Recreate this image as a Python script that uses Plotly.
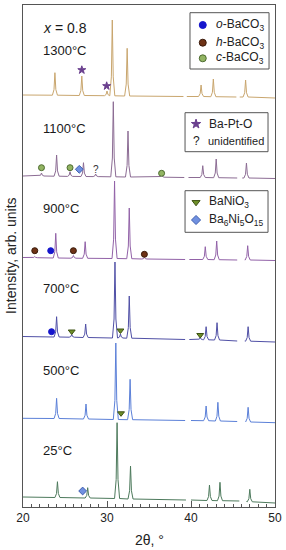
import plotly.graph_objects as go

FONT = "Arial, Liberation Sans, sans-serif"

# ---------------- data (2theta in degrees, intensity in arb. units, stacked) -------------
labels = ["25°C", "500°C", "700°C", "900°C", "1100°C", "1300°C"]
label_y = [57, 137, 219, 299, 379, 457]
line_colors = ["#4d7a5c", "#5b80d8", "#5050a6", "#9262a8", "#8c6c94", "#c9a66e"]

# measured segments: (x_start, y_start, x_end, y_end)
seg_25 = [(20.0, 10.0, 39.4, 7.0), (40.0, 7.0, 45.75, 6.0), (46.6, 5.5, 50.0, 4.0)]
seg_500 = [(20.0, 88.7, 39.3, 86.5), (40.0, 86.5, 45.5, 85.5), (46.5, 85.0, 50.0, 84.3)]
seg_700 = [(20.0, 170.5, 39.3, 167.5), (39.8, 167.5, 45.5, 166.0), (46.4, 166.0, 50.0, 165.0)]
seg_900 = [(20.0, 249.5, 39.3, 247.5), (39.8, 247.5, 45.5, 247.0), (46.4, 247.0, 50.0, 246.5)]
seg_1100 = [(20.0, 331.0, 39.2, 329.5), (39.7, 329.5, 45.5, 329.0), (46.1, 329.0, 50.0, 328.5)]
seg_1300 = [(20.0, 412.0, 39.1, 410.5), (39.5, 410.5, 45.4, 410.0), (45.8, 410.0, 50.0, 409.0)]

# peak positions, apex intensities and local background
pos_25 = [24.1, 27.7, 31.2, 32.8, 42.2, 43.45, 47.0]
top_25 = [25.3, 19.3, 84.3, 41.0, 22.0, 24.7, 17.7]
bg_25 = [9.5, 9.0, 8.5, 8.0, 6.5, 6.3, 5.2]

pos_500 = [24.0, 27.5, 31.05, 32.75, 41.8, 43.2, 46.8]
top_500 = [108.7, 103.0, 164.0, 127.7, 101.0, 104.7, 99.7]
bg_500 = [88.5, 88.0, 87.5, 87.3, 86.3, 86.0, 85.0]

pos_700 = [24.0, 25.8, 27.46, 30.95, 31.6, 32.65, 41.1, 41.8, 43.1, 46.8]
top_700 = [190.3, 172.5, 183.0, 245.0, 173.0, 211.0, 169.5, 180.3, 184.3, 180.3]
bg_700 = [170.0, 169.8, 169.5, 169.0, 169.0, 168.8, 167.3, 167.2, 167.0, 165.8]

pos_900 = [21.4, 23.9, 26.0, 27.4, 30.9, 32.65, 34.45, 41.7, 43.06, 46.75]
top_900 = [250.5, 273.7, 251.5, 265.3, 326.0, 299.0, 249.5, 260.3, 266.0, 261.3]
bg_900 = [249.3, 249.0, 248.8, 248.7, 248.5, 248.3, 248.0, 247.5, 247.3, 247.0]

pos_1100 = [22.2, 24.0, 25.6, 27.2, 28.65, 30.75, 32.5, 36.5, 41.4, 43.0, 46.6]
top_1100 = [334.0, 352.0, 335.3, 344.3, 333.0, 405.3, 376.0, 332.5, 341.3, 348.0, 344.0]
bg_1100 = [331.0, 330.8, 330.6, 330.5, 330.4, 330.2, 330.0, 329.8, 329.5, 329.3, 329.0]

pos_1300 = [23.8, 27.0, 30.0, 30.63, 32.4, 41.2, 42.66, 46.5]
top_1300 = [434.3, 431.0, 416.0, 487.0, 458.7, 422.0, 428.0, 427.0]
bg_1300 = [411.8, 411.5, 411.3, 411.2, 411.0, 410.5, 410.3, 410.0]

segments = [seg_25, seg_500, seg_700, seg_900, seg_1100, seg_1300]
positions = [pos_25, pos_500, pos_700, pos_900, pos_1100, pos_1300]
tops = [top_25, top_500, top_700, top_900, top_1100, top_1300]
bgs = [bg_25, bg_500, bg_700, bg_900, bg_1100, bg_1300]

# phase markers
phase_names = ["<i>o</i>-BaCO<sub>3</sub>", "<i>h</i>-BaCO<sub>3</sub>", "<i>c</i>-BaCO<sub>3</sub>",
               "Ba-Pt-O", "BaNiO<sub>3</sub>", "Ba<sub>6</sub>Ni<sub>5</sub>O<sub>15</sub>"]
phase_symbols = ["circle", "circle", "circle", "star", "triangle-down", "diamond"]
phase_colors = ["#1515cc", "#6e3216", "#92b462", "#6a3f8e", "#6e8f28", "#7090e0"]
phase_edges = ["#1515cc", "#3a1a0a", "#4d6b30", "#6a3f8e", "#3e5214", "#4060b0"]
phase_sizes = [6, 6, 6, 6, 6, 6]
phase_x = [[23.4, 23.3], [21.4, 26.0, 34.45], [22.2, 25.6, 36.5], [27.0, 29.96],
           [25.8, 31.6, 41.1, 31.67], [26.7, 27.1]]
phase_y = [[175.3, 256.3], [256.3, 256.3, 252.7], [339.3, 339.3, 333.7], [437.0, 421.0],
           [175.5, 176.5, 172.0, 93.7], [337.7, 16.0]]
unknown_x = [28.65]
unknown_y = [337.7]

# legend boxes (x0, x1, y0, y1) and their rows
legend_boxes = [(39.88, 49.29, 438.0, 494.3), (39.29, 49.17, 355.3, 394.3), (39.29, 49.17, 274.7, 316.3)]
legend_rows = [[0, 1, 2], [3, "?"], [4, 5]]
legend_row_y = [[482.0, 464.3, 448.7], [383.0, 366.3], [304.7, 287.0]]
legend_sym_x = [41.4, 40.6, 40.6]
legend_txt_x = [42.7, 41.9, 41.9]

# ---------------- figure -------------
PEAK_FOOT = 0.3
PEAK_SHOULDER = 0.11
SHOULDER_FRAC = 0.25

fig = go.Figure()

for k in range(len(labels)):
    xs, ys = [], []
    for (x0, y0, x1, y1) in segments[k]:
        xs.append(x0); ys.append(y0)
        for p, t, b in zip(positions[k], tops[k], bgs[k]):
            if x0 < p < x1:
                s = b + SHOULDER_FRAC * (t - b)
                xs += [p - PEAK_FOOT, p - PEAK_SHOULDER, p, p + PEAK_SHOULDER, p + PEAK_FOOT]
                ys += [b, s, t, s, b]
        xs.append(x1); ys.append(y1)
        xs.append(None); ys.append(None)
    fig.add_trace(go.Scatter(x=xs, y=ys, mode="lines", connectgaps=False,
                             line=dict(color=line_colors[k], width=1), hoverinfo="skip",
                             showlegend=False))
    fig.add_annotation(x=22.2, y=label_y[k], text=labels[k], showarrow=False,
                       xanchor="left", yanchor="middle",
                       font=dict(family=FONT, size=13, color="#1a1a1a"))

fig.add_annotation(x=22.2, y=479, text="<i>x</i> = 0.8", showarrow=False,
                   xanchor="left", yanchor="middle", font=dict(family=FONT, size=14, color="#1a1a1a"))

for i in range(len(phase_names)):
    fig.add_trace(go.Scatter(x=phase_x[i], y=phase_y[i], mode="markers", showlegend=False,
                             hoverinfo="skip",
                             marker=dict(symbol=phase_symbols[i], size=phase_sizes[i],
                                         color=phase_colors[i],
                                         line=dict(color=phase_edges[i], width=1))))
for x, y in zip(unknown_x, unknown_y):
    fig.add_annotation(x=x, y=y, text="?", showarrow=False,
                       font=dict(family=FONT, size=10, color="#333"))

# legends
for b, (x0, x1, y0, y1) in enumerate(legend_boxes):
    fig.add_shape(type="rect", x0=x0, x1=x1, y0=y0, y1=y1, xref="x", yref="y",
                  line=dict(color="#555555", width=1), fillcolor="white", layer="below")
    for r, item in enumerate(legend_rows[b]):
        yy = legend_row_y[b][r]
        if item == "?":
            fig.add_annotation(x=legend_sym_x[b], y=yy, text="?", showarrow=False,
                               font=dict(family=FONT, size=12, color="#222"))
            fig.add_annotation(x=legend_txt_x[b] - 0.1, y=yy, text="unidentified", showarrow=False,
                               xanchor="left", font=dict(family=FONT, size=11, color="#222"))
        else:
            fig.add_trace(go.Scatter(x=[legend_sym_x[b]], y=[yy], mode="markers", showlegend=False,
                                     hoverinfo="skip",
                                     marker=dict(symbol=phase_symbols[item], size=phase_sizes[item] + 1,
                                                 color=phase_colors[item],
                                                 line=dict(color=phase_edges[item], width=1))))
            fig.add_annotation(x=legend_txt_x[b], y=yy, text=phase_names[item], showarrow=False,
                               xanchor="left", font=dict(family=FONT, size=12, color="#222"))

fig.add_annotation(xref="paper", yref="paper", x=-0.048, y=0.5, text="Intensity, arb. units",
                   textangle=-90, showarrow=False, xanchor="center", yanchor="middle",
                   font=dict(family=FONT, size=14, color="#222"))
fig.add_annotation(xref="paper", yref="paper", x=0.5, y=-0.066, text="2θ, °", showarrow=False,
                   xanchor="center", yanchor="middle", font=dict(family=FONT, size=14, color="#222"))

fig.update_layout(
    width=286, height=550,
    margin=dict(l=23, r=11, t=5, b=43),
    paper_bgcolor="white", plot_bgcolor="white",
    showlegend=False,
    xaxis=dict(range=[20, 50], tickvals=[20, 30, 40, 50], ticks="inside", ticklen=6,
               tickcolor="#555", showline=True, linecolor="#555", linewidth=1, mirror=True,
               showgrid=False, zeroline=False,
               tickfont=dict(family=FONT, size=12, color="#222"),
               minor=dict(dtick=1, ticks="inside", ticklen=3.5, tickcolor="#555", showgrid=False)),
    yaxis=dict(range=[0, 502], showticklabels=False, ticks="", showline=True, linecolor="#555",
               linewidth=1, mirror=True, showgrid=False, zeroline=False),
)

fig.write_html("out.html", config={"displayModeBar": False},
               post_script="document.body.style.margin='0';document.body.style.overflow='hidden';")
